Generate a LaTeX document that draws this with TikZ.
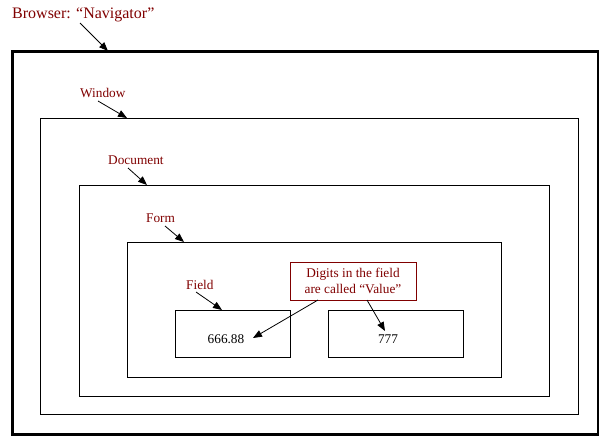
\documentclass[tikz,border=0pt]{standalone}
\usepackage{fontspec}
\setmainfont{Liberation Serif}
\usetikzlibrary{arrows.meta}
\definecolor{lblred}{HTML}{800000}
\begin{document}
\begin{tikzpicture}[x=1pt,y=-1pt,
  box/.style={draw=black,line width=1pt,anchor=north west,inner sep=0pt,outer sep=0pt},
  lbl/.style={text=lblred,font=\fontsize{13.3}{15}\selectfont,inner sep=0pt,anchor=west},
  val/.style={text=black,font=\fontsize{13.3}{15}\selectfont,inner sep=0pt},
  arr/.style={draw=black,line width=0.8pt,-{Triangle[length=9pt,width=7pt]}}]
\useasboundingbox (0,0) rectangle (599,437);
% boxes
\node[box,line width=3pt,minimum width=586pt,minimum height=383pt] (browser) at (12,51) {};
\node[box,minimum width=538pt,minimum height=296pt] (window) at (40,118) {};
\node[box,minimum width=470pt,minimum height=211pt] (document) at (79,185) {};
\node[box,minimum width=374pt,minimum height=135pt] (form) at (127,242) {};
\node[box,minimum width=115pt,minimum height=47pt] (field1) at (175,310) {};
\node[box,minimum width=135pt,minimum height=47pt] (field2) at (328,310) {};
% values
\node[val] (v1) at (226,339) {666.88};
\node[val] (v2) at (388,339) {777};
% labels
\node[lbl,font=\fontsize{16}{18}\selectfont] (lbrowser) at (12,15) {Browser: “Navigator”};
\node[lbl] (lwindow) at (80,93) {Window};
\node[lbl] (ldocument) at (108,160) {Document};
\node[lbl] (lform) at (146,218) {Form};
\node[lbl] (lfield) at (186,285) {Field};
% callout
\node[draw=lblred,line width=1pt,minimum width=126pt,minimum height=38pt,inner sep=0pt,
      text=lblred,font=\fontsize{13.3}{15.5}\selectfont,align=center] (callout) at (353,281)
      {Digits in the field\\are called “Value”};
% arrow coordinates
\coordinate (a1s) at (80,23);  \coordinate (a1e) at (108,51);
\coordinate (a2s) at (98,101); \coordinate (a2e) at (127,118);
\coordinate (a3s) at (128,168); \coordinate (a3e) at (147,185);
\coordinate (a4s) at (165,226); \coordinate (a4e) at (184,242);
\coordinate (a5s) at (196,292); \coordinate (a5e) at (222,310);
\coordinate (c1s) at (318,300); \coordinate (c1e) at (253,338);
\coordinate (c2s) at (367,300); \coordinate (c2e) at (385,331);
\draw[arr] (a1s) -- (a1e);
\draw[arr] (a2s) -- (a2e);
\draw[arr] (a3s) -- (a3e);
\draw[arr] (a4s) -- (a4e);
\draw[arr] (a5s) -- (a5e);
\draw[arr] (c1s) -- (c1e);
\draw[arr] (c2s) -- (c2e);
\end{tikzpicture}
\end{document}
